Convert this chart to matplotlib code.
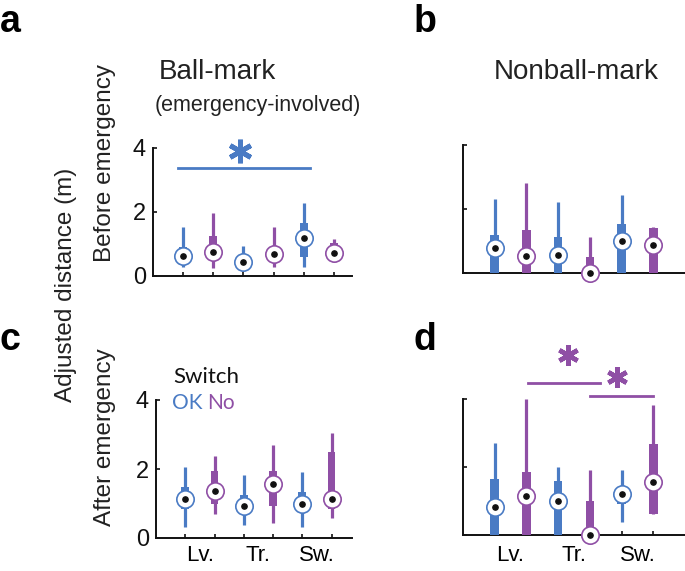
import matplotlib
matplotlib.use("Agg")
import matplotlib.pyplot as plt

W, H = 685, 571
BLUE = "#4a7bc4"
PURPLE = "#8f4fa5"

positions = [1, 2, 3, 4, 5, 6]
groups = ["OK", "No", "OK", "No", "OK", "No"]
cat_labels = ["Lv.", "Tr.", "Sw."]
cat_pos = [1.5, 3.5, 5.5]
yticks = [0, 2, 4]

# Panel a: Ball-mark, before emergency
a_whi = [1.52, 1.96, 0.94, 1.52, 2.29, 1.15]
a_q3 = [0.92, 1.25, 0.60, 0.85, 1.67, 1.02]
a_med = [0.64, 0.76, 0.44, 0.68, 1.18, 0.71]
a_q1 = [0.33, 0.50, 0.30, 0.50, 0.60, 0.55]
a_wlo = [0.28, 0.26, 0.22, 0.29, 0.29, 0.48]

# Panel b: Nonball-mark, before emergency
b_whi = [2.31, 2.80, 2.22, 1.12, 2.43, 1.43]
b_q3 = [1.19, 1.35, 1.14, 0.50, 1.52, 1.40]
b_med = [0.78, 0.52, 0.56, 0.00, 1.00, 0.86]
b_q1 = [0, 0, 0, 0, 0, 0]
b_wlo = [0, 0, 0, 0, 0, 0]

# Panel c: Ball-mark, after emergency
c_whi = [2.07, 2.38, 1.84, 2.69, 1.90, 3.05]
c_q3 = [1.47, 1.93, 1.25, 1.95, 1.33, 2.49]
c_med = [1.14, 1.36, 0.93, 1.57, 0.98, 1.14]
c_q1 = [0.83, 1.00, 0.78, 0.92, 0.78, 0.84]
c_wlo = [0.33, 0.71, 0.38, 0.43, 0.33, 0.59]

# Panel d: Nonball-mark, after emergency
d_whi = [2.71, 3.99, 2.00, 1.92, 1.92, 3.82]
d_q3 = [1.65, 1.86, 1.58, 0.99, 1.25, 2.68]
d_med = [0.81, 1.16, 1.00, 0.00, 1.20, 1.56]
d_q1 = [0, 0, 0, 0, 0.92, 0.61]
d_wlo = [0, 0, 0, 0, 0.39, 0.61]

# significance markers (x0, x1, y), asterisk (x, y)
a_sig = [(0.82, 5.2, 3.37)]
a_star = [(2.9, 3.9)]
d_sig = [(2.04, 4.32, 4.46), (4.0, 6.0, 4.09)]
d_star = [(3.3, 5.3), (4.87, 4.64)]

plt.rcParams["font.family"] = ["Liberation Sans", "DejaVu Sans"]
fig = plt.figure(figsize=(W / 100, H / 100), dpi=100)


def rect(l, t, r, b):
    return [l / W, 1 - b / H, (r - l) / W, (b - t) / H]


def draw(ax, whi, q3, med, q1, wlo, xmax, labels_left, xlabels, xpad=7):
    for x, g, hi, u, m, lo_b, lo in zip(positions, groups, whi, q3, med, q1, wlo):
        col = BLUE if g == "OK" else PURPLE
        ax.vlines(x, lo, hi, color=col, lw=2.3, zorder=2, clip_on=False)
        ax.bar(x, u - lo_b, bottom=lo_b, width=0.27, color=col, zorder=3,
               linewidth=0, clip_on=False)
        ax.plot(x, m, "o", ms=12.5, mfc="white", mec=col, mew=1.2, zorder=5,
                clip_on=False)
        ax.plot(x, m, "o", ms=3.8, color="#111111", zorder=6, clip_on=False)
    ax.set_xlim(0, xmax)
    ax.set_ylim(0, 4)
    for s in ["top", "right"]:
        ax.spines[s].set_visible(False)
    for s in ["left", "bottom"]:
        ax.spines[s].set_linewidth(1.4)
        ax.spines[s].set_color("#111111")
    ax.set_yticks(yticks)
    ax.set_xticks(positions)
    ax.tick_params(axis="both", direction="in", length=3, width=1.2,
                   colors="#111111", labelsize=17, pad=5)
    ax.set_xticklabels([])
    if not labels_left:
        ax.set_yticklabels([])
    if xlabels:
        ax.set_xticks(cat_pos, minor=True)
        ax.set_xticklabels(cat_labels, minor=True)
        ax.tick_params(axis="x", which="minor", length=0, labelsize=16, pad=xpad)
    ax.patch.set_alpha(0)


ax_a = fig.add_axes(rect(153, 148, 352, 276))
draw(ax_a, a_whi, a_q3, a_med, a_q1, a_wlo, 6.6, True, False)
ax_b = fig.add_axes(rect(463, 145, 685, 273))
draw(ax_b, b_whi, b_q3, b_med, b_q1, b_wlo, 7.0, False, False)
ax_c = fig.add_axes(rect(156, 400, 352, 538))
draw(ax_c, c_whi, c_q3, c_med, c_q1, c_wlo, 6.7, True, True, xpad=5)
ax_d = fig.add_axes(rect(463, 399, 685, 535))
draw(ax_d, d_whi, d_q3, d_med, d_q1, d_wlo, 7.0, False, True, xpad=7)

for x0, x1, y in a_sig:
    ax_a.plot([x0, x1], [y, y], color=BLUE, lw=2, clip_on=False)
for x, y in a_star:
    ax_a.plot(x, y, marker=(6, 2, 0), ms=17, mew=3.5, color=BLUE, clip_on=False)
for x0, x1, y in d_sig:
    ax_d.plot([x0, x1], [y, y], color=PURPLE, lw=2, clip_on=False)
for x, y in d_star:
    ax_d.plot(x, y, marker=(6, 2, 0), ms=15, mew=3.3, color=PURPLE, clip_on=False)


def ftext(px, py, s, **kw):
    fig.text(px / W, 1 - py / H, s, **kw)


ftext(10, 32, "a", fontsize=27, fontweight="bold", ha="center", va="baseline")
ftext(425, 32, "b", fontsize=27, fontweight="bold", ha="center", va="baseline")
ftext(10, 350, "c", fontsize=27, fontweight="bold", ha="center", va="baseline")
ftext(425, 350, "d", fontsize=27, fontweight="bold", ha="center", va="baseline")

ftext(217, 72, "Ball-mark", fontsize=20, ha="center", va="center", color="#222222")
ftext(258, 106, "(emergency-involved)", fontsize=15.5, ha="center", va="center",
      color="#222222")
ftext(576, 72, "Nonball-mark", fontsize=20, ha="center", va="center", color="#222222")

ftext(66, 285, "Adjusted distance (m)", fontsize=17.5, rotation=90, ha="center",
      va="center", color="#222222")
ftext(105, 163, "Before emergency", fontsize=17.5, rotation=90, ha="center",
      va="center", color="#222222")
ftext(105, 437, "After emergency", fontsize=17.5, rotation=90, ha="center",
      va="center", color="#222222")

LATO = ["Lato", "DejaVu Sans"]
ftext(173, 377, "Switch", fontsize=16, ha="left", va="center", color="#111111",
      family=LATO)
ftext(172, 403, "OK", fontsize=15, ha="left", va="center", color=BLUE, family=LATO)
ftext(207, 403, "No", fontsize=15, ha="left", va="center", color=PURPLE, family=LATO)

fig.savefig("out.png", dpi=100)
